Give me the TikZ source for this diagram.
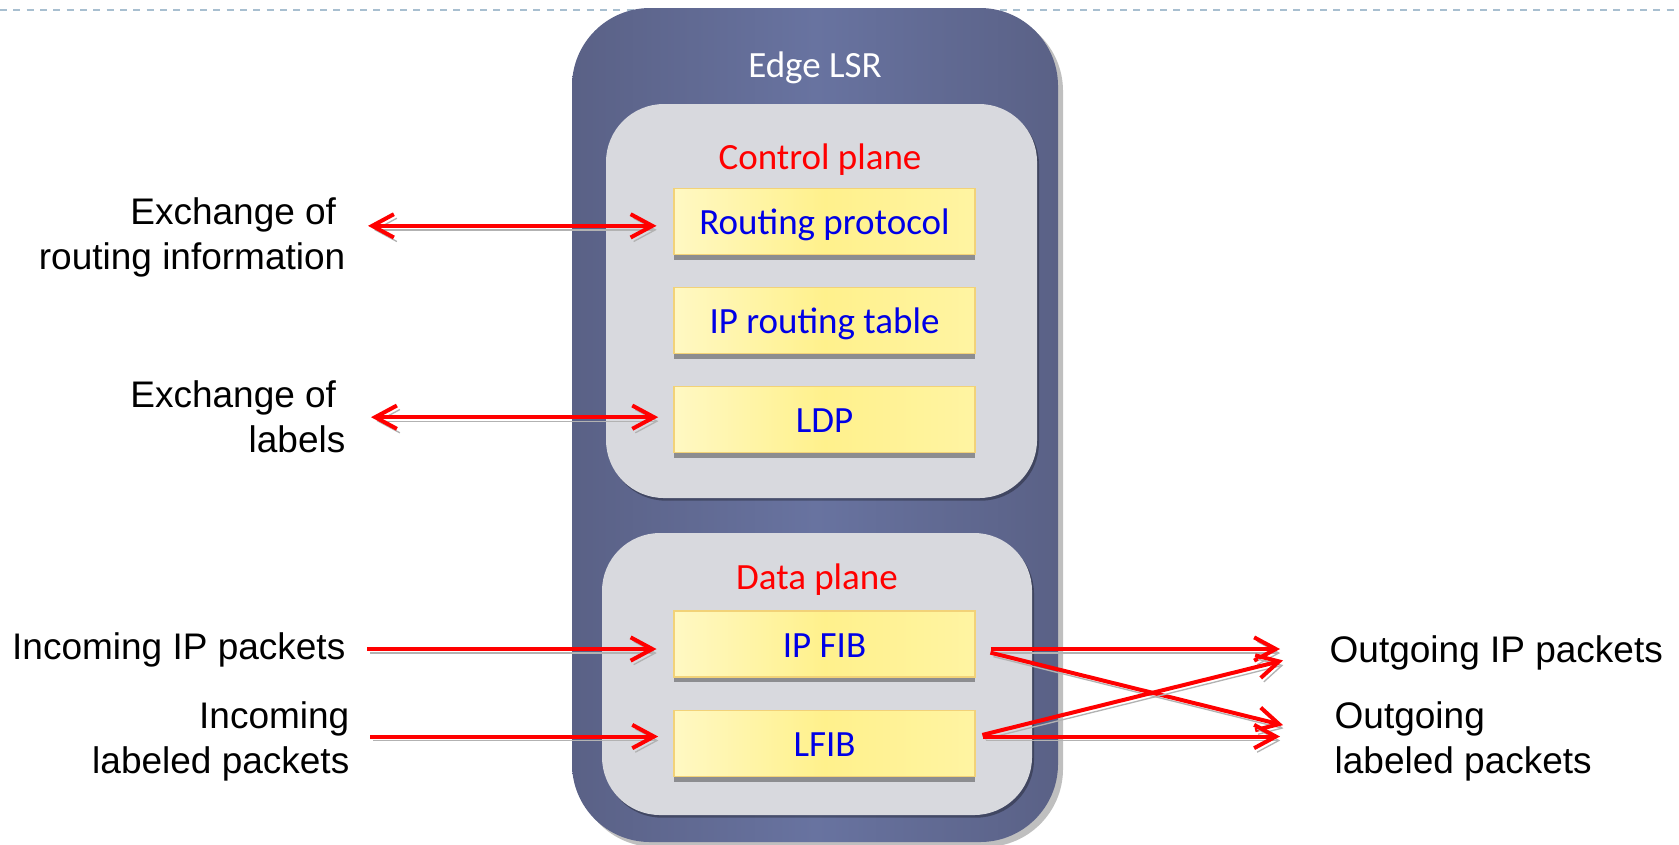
\documentclass[tikz,border=0pt]{standalone}
\usepackage{fontspec}
\setmainfont{Liberation Sans}
\newfontfamily\slidefont{Carlito}
\usetikzlibrary{arrows.meta,shadows}

\definecolor{lsrside}{RGB}{90,97,134}
\definecolor{lsrmid}{RGB}{104,115,160}
\definecolor{planegray}{RGB}{216,217,222}
\definecolor{ylight}{RGB}{255,248,195}
\definecolor{ydeep}{RGB}{255,241,140}
\definecolor{yborder}{RGB}{242,210,120}
\definecolor{dashblue}{RGB}{168,191,208}
\definecolor{txtblue}{RGB}{0,0,230}

\newcommand{\textsize}{\fontsize{11.1}{13.5}\selectfont}
\newcommand{\planeradius}{17.4pt}
\newcommand{\lsrradius}{23.4pt}

\tikzset{
  tablebox/.style={draw=yborder, line width=0.5pt, left color=ylight, right color=ydeep!60!ylight, middle color=ydeep,
    minimum width=90.3pt, minimum height=19.8pt, inner sep=0pt, font=\slidefont\textsize, text=txtblue,
    text height=0.8em, text depth=0pt,
    drop shadow={shadow xshift=0pt, shadow yshift=-1.5pt, opacity=0.35, fill=black}},
  planebox/.style={fill=planegray, rounded corners=\planeradius,
    drop shadow={shadow xshift=0.6pt, shadow yshift=-0.8pt, opacity=0.3, fill=black}},
  planetitle/.style={font=\slidefont\textsize, text=red, inner sep=0pt},
  note/.style={font=\textsize, inner sep=0pt},
  redarrow/.style={draw=red, line width=1.2pt,
    preaction={draw=black!30, transform canvas={xshift=0.9pt, yshift=-1.2pt}}}
}

\begin{document}
\begin{tikzpicture}[x=0.3pt, y=-0.3pt, >={Straight Barb[length=6.5pt,width=7pt]}]
\useasboundingbox (0,0) rectangle (1679,844);

% slide rule
\draw[dashblue, line width=0.6pt, dash pattern=on 2.1pt off 1.9pt] (0,10) -- (1679,10);

% router
\path[rounded corners=\lsrradius, left color=lsrside, right color=lsrside, middle color=lsrmid,
  drop shadow={shadow xshift=1.5pt, shadow yshift=-1.5pt, opacity=0.25, fill=black}] (572,8) rectangle (1058,842);
\node[font=\slidefont\textsize, text=white, inner sep=0pt] (lsr) at (815,68) {Edge LSR};

% control plane
\path[planebox] (606,104) rectangle (1037,498);
\node[planetitle] (cplane) at (820,160) {Control plane};
\node[tablebox] (rp) at (824.5,221.5) {Routing protocol};
\node[tablebox] (iprt) at (824.5,320.5) {IP routing table};
\node[tablebox] (ldp) at (824.5,419.5) {LDP};

% data plane
\path[planebox] (602,533) rectangle (1032,815);
\node[planetitle] (dplane) at (817,580) {Data plane};
\node[tablebox] (ipfib) at (824.5,644) {IP FIB};
\node[tablebox] (lfib) at (824.5,743.5) {LFIB};

% outside texts
\node[note, align=right, anchor=east] (xroute) at (346,237) {Exchange of\hspace*{0.25em}\\routing information};
\node[note, align=right, anchor=east] (xlabel) at (346,417) {Exchange of\hspace*{0.25em}\\labels};
\node[note, anchor=east] (inip) at (346,650) {Incoming IP packets};
\node[note, align=right, anchor=east] (inlab) at (350,741) {Incoming\\labeled packets};
\node[note, anchor=west] (outip) at (1329,653) {Outgoing IP packets};
\node[note, align=left, anchor=west] (outlab) at (1334,741) {Outgoing\\labeled packets};

\coordinate (rpin) at ([yshift=-1.3pt]rp.west);
\coordinate (ldpin) at ([yshift=0.7pt]ldp.west);
\coordinate (ipin) at ([yshift=-1.5pt]ipfib.west);
\coordinate (lfin) at ([yshift=2.1pt]lfib.west);
\coordinate (ipout) at ([yshift=-1.5pt]ipfib.east);
\coordinate (lfout) at ([yshift=2.1pt]lfib.east);

% arrows
\draw[redarrow, <->, shorten <=6.6pt, shorten >=5pt] (rpin -| xroute.east) -- (rpin);
\draw[redarrow, <->, shorten <=7.5pt, shorten >=4.5pt] (ldpin -| xlabel.east) -- (ldpin);
\draw[redarrow, ->, shorten <=6.3pt, shorten >=5pt] (ipin -| inip.east) -- (ipin);
\draw[redarrow, ->, shorten <=6pt, shorten >=4.5pt] (lfin -| inlab.east) -- (lfin);
\draw[redarrow, ->, shorten <=4.5pt, shorten >=14.7pt] (ipout) -- (ipout -| outip.west);
\draw[redarrow, ->, shorten <=4.5pt, shorten >=14.2pt] (ipout) -- (lfout -| outip.west);
\draw[redarrow, ->, shorten <=2pt, shorten >=14.2pt] (lfout) -- (ipout -| outip.west);
\draw[redarrow, ->, shorten <=2pt, shorten >=14.7pt] (lfout) -- (lfout -| outip.west);

\end{tikzpicture}
\end{document}
